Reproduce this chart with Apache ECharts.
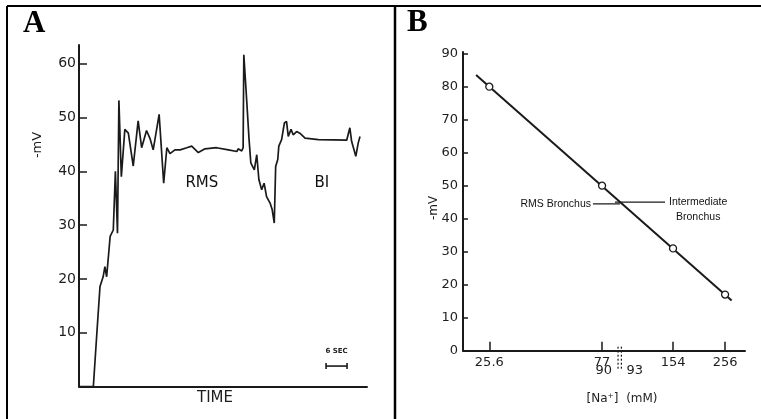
<!DOCTYPE html>
<html>
<head>
<meta charset="utf-8">
<script src="https://cdn.jsdelivr.net/npm/echarts@6/dist/echarts.min.js"></script>
<style>
    html, body { margin: 0; padding: 0; background: #fff; }
    #chart { width: 761px; height: 419px; }
</style>
</head>
<body>
<div id="chart"></div>
<script>
    // ---- panel A: potential trace, time in seconds (6 s scale bar) ----
    var traceSec = [0, 4.1, 5.1, 6.0, 6.9, 7.4, 7.9, 8.9, 9.8, 10.4, 11.0, 11.4, 12.1, 13.1, 14.1, 15.5, 16.9,
        17.9, 19.3, 20.3, 21.2, 22.9, 24.2, 25.1, 26.0, 27.4, 28.9, 30.8, 32.2, 34.1, 36.0, 39.3, 42.7,
        45.1, 45.5, 46.5, 46.9, 47.1, 47.9, 48.6, 49.1, 50.1, 50.8, 51.4, 52.2, 52.9, 53.6, 54.6, 55.2,
        55.8, 56.2, 56.8, 57.1, 57.9, 58.7, 59.3, 59.8, 60.6, 61.2, 62.2, 63.1, 64.6, 68.4, 76.5, 77.4,
        77.9, 79.1, 79.8, 80.3];
    var traceMv = [0, 0, 9.9, 18.6, 20.4, 22.3, 20.4, 27.9, 29.1, 40, 28.5, 53.2, 39, 47.8, 47.1, 41, 49.4,
        44.4, 47.6, 46.1, 44, 50.6, 37.8, 44.4, 43.3, 44, 44, 44.4, 44.7, 43.5, 44.2, 44.4, 44,
        43.7, 44.2, 43.8, 44.4, 61.7, 53.4, 45.9, 41.6, 40.3, 43.1, 38.5, 36.6, 37.8, 35.3, 34.1, 32.9,
        30.4, 40.9, 42.2, 44.7, 45.9, 49, 49.3, 46.5, 47.8, 46.8, 47.4, 47.1, 46.2, 45.9, 45.8, 48.1,
        45.6, 42.8, 45.3, 46.5];
    var mvTicksA = [10, 20, 30, 40, 50, 60];
    var notesA = ['RMS', 'BI'];
    var notesASec = [35.1, 69.4];
    var notesAMv = [37.9, 37.9];
    var scaleBarStart = 70.6;
    var scaleBarSec = 6;
    var scaleBarMv = 3.8;

    // ---- panel B: potential vs [Na+] (log scale) ----
    var naConc = [25.6, 77, 154, 256];
    var naMv = [80, 50, 31, 17];
    var fitConc = [22.5, 273];
    var fitMv = [83.5, 15.2];
    var concTicks = [25.6, 77, 154, 256];
    var concTickLabels = ['25.6', '77', '154', '256'];
    var markConc = [90, 93];
    var markLabels = ['90', '93'];
    var mvTicksB = [0, 10, 20, 30, 40, 50, 60, 70, 80, 90];
    var rmsConc = [70.5, 91.7];
    var rmsMv = [44.5, 44.5];
    var interConc = [87.3, 142.4];
    var interMv = [45, 45];

    var lg = function (v) { return Math.log10(v); };
    var ink = '#1a1a1a';
    var textInk = '#1e1e1e';
    var tickText = { fontFamily: 'DejaVu Sans', fontSize: 14, color: textInk };

    var chart = echarts.init(document.getElementById('chart'));

    chart.setOption({
        animation: false,
        backgroundColor: '#fff',
        grid: [
            { left: 79, top: 45, width: 288, height: 341.5, outerBoundsMode: 'none' },
            { left: 463, top: 52, width: 282, height: 298.7, outerBoundsMode: 'none' }
        ],
        xAxis: [{
            gridIndex: 0, type: 'value', min: 0, max: 82.3,
            axisLine: { lineStyle: { color: ink, width: 2 } },
            axisTick: { show: false }, axisLabel: { show: false }, splitLine: { show: false },
            name: 'TIME', nameLocation: 'middle', nameGap: 4,
            nameTextStyle: { fontFamily: 'DejaVu Sans', fontSize: 15, color: textInk, padding: [0, 16, 0, 0] }
        }, {
            gridIndex: 1, type: 'value', min: lg(19.8), max: lg(311),
            axisLine: { lineStyle: { color: ink, width: 2 } },
            axisTick: { inside: true, length: 9, customValues: concTicks.map(lg), lineStyle: { color: ink, width: 1.5 } },
            axisLabel: Object.assign({
                customValues: concTicks.map(lg), margin: 5,
                formatter: function (v) {
                    var i = concTicks.findIndex(function (c) { return Math.abs(lg(c) - v) < 1e-6; });
                    return i < 0 ? '' : concTickLabels[i];
                }
            }, tickText, { fontSize: 13 }),
            splitLine: { show: false },
            name: '[Na\u207A]  (mM)', nameLocation: 'middle', nameGap: 42,
            nameTextStyle: { fontFamily: 'DejaVu Sans', fontSize: 12, color: textInk, padding: [0, 0, 0, 36] }
        }],
        yAxis: [{
            gridIndex: 0, type: 'value', min: 0, max: 63.5,
            axisLine: { show: true, lineStyle: { color: ink, width: 2 } },
            axisTick: { show: true, inside: true, length: 8, customValues: mvTicksA, lineStyle: { color: ink, width: 1.5 } },
            axisLabel: Object.assign({ customValues: mvTicksA, margin: 3 }, tickText),
            splitLine: { show: false }
        }, {
            gridIndex: 1, type: 'value', min: 0, max: 90.5,
            axisLine: { show: true, lineStyle: { color: ink, width: 2 } },
            axisTick: { show: true, inside: true, length: 5, customValues: mvTicksB, lineStyle: { color: ink, width: 1.5 } },
            axisLabel: Object.assign({ customValues: mvTicksB, margin: 5 }, tickText, { fontSize: 13 }),
            splitLine: { show: false }
        }],
        series: [{
            name: 'trace', type: 'line', xAxisIndex: 0, yAxisIndex: 0,
            data: traceSec.map(function (t, i) { return [t, traceMv[i]]; }),
            symbol: 'none', lineStyle: { color: ink, width: 1.7 }, z: 5
        }, {
            name: 'notesA', type: 'scatter', xAxisIndex: 0, yAxisIndex: 0, symbolSize: 0,
            itemStyle: { opacity: 1 },
            data: notesA.map(function (n, i) { return { name: n, value: [notesASec[i], notesAMv[i]] }; }),
            label: { show: true, position: 'inside', formatter: '{b}', fontFamily: 'DejaVu Sans', fontSize: 15, color: '#111' }
        }, {
            name: 'scaleBar', type: 'custom', xAxisIndex: 0, yAxisIndex: 0,
            data: [[scaleBarStart, scaleBarMv]],
            renderItem: function (params, api) {
                var p0 = api.coord([api.value(0), api.value(1)]);
                var p1 = api.coord([api.value(0) + scaleBarSec, api.value(1)]);
                var st = { stroke: ink, lineWidth: 1.6 };
                return {
                    type: 'group', children: [
                        { type: 'line', shape: { x1: p0[0], y1: p0[1], x2: p1[0], y2: p1[1] }, style: st },
                        { type: 'line', shape: { x1: p0[0], y1: p0[1] - 3, x2: p0[0], y2: p0[1] + 3 }, style: st },
                        { type: 'line', shape: { x1: p1[0], y1: p1[1] - 3, x2: p1[0], y2: p1[1] + 3 }, style: st },
                        { type: 'text', x: (p0[0] + p1[0]) / 2, y: p0[1] - 15,
                          style: { text: scaleBarSec + ' SEC', align: 'center', verticalAlign: 'middle',
                                   font: 'bold 7px "DejaVu Sans"', fill: textInk } }
                    ]
                };
            }
        }, {
            name: 'fit', type: 'line', xAxisIndex: 1, yAxisIndex: 1,
            data: fitConc.map(function (c, i) { return [lg(c), fitMv[i]]; }),
            symbol: 'none', lineStyle: { color: ink, width: 2 }
        }, {
            name: 'measured', type: 'scatter', xAxisIndex: 1, yAxisIndex: 1,
            data: naConc.map(function (c, i) { return [lg(c), naMv[i]]; }),
            symbol: 'circle', symbolSize: 7,
            itemStyle: { color: '#ffffff', borderColor: '#1a1a1a', borderWidth: 1.3, opacity: 1 }, z: 4
        }, {
            name: 'rms', type: 'line', xAxisIndex: 1, yAxisIndex: 1,
            data: rmsConc.map(function (c, i) { return [lg(c), rmsMv[i]]; }),
            symbol: 'none', lineStyle: { color: ink, width: 1.3 }
        }, {
            name: 'intermediate', type: 'line', xAxisIndex: 1, yAxisIndex: 1,
            data: interConc.map(function (c, i) { return [lg(c), interMv[i]]; }),
            symbol: 'none', lineStyle: { color: ink, width: 1.3 }
        }, {
            name: 'notesB', type: 'scatter', xAxisIndex: 1, yAxisIndex: 1, symbolSize: 0,
            itemStyle: { opacity: 1 },
            data: [{
                value: [lg(rmsConc[0]), rmsMv[0]],
                label: { show: true, position: 'left', distance: 2, formatter: 'RMS Bronchus' }
            }, {
                value: [lg(interConc[1]), interMv[1]],
                label: { show: true, position: 'right', distance: 4, offset: [0, 7],
                         formatter: '{c|Intermediate}\n{c|Bronchus}',
                         rich: { c: { align: 'center', fontFamily: 'Liberation Sans', fontSize: 10.5, color: '#111', lineHeight: 15 } } }
            }],
            label: { fontFamily: 'Liberation Sans', fontSize: 10.5, color: '#111' }
        }, {
            name: 'marks', type: 'custom', xAxisIndex: 1, yAxisIndex: 1,
            data: markConc.map(function (c) { return [lg(c), 0]; }),
            renderItem: function (params, api) {
                var p = api.coord([api.value(0), 0]);
                var left = params.dataIndex === 0;
                return {
                    type: 'group', children: [
                        { type: 'line', shape: { x1: p[0], y1: p[1] - 4, x2: p[0], y2: p[1] + 20 },
                          style: { stroke: ink, lineWidth: 1.2, lineDash: [2, 2] } },
                        { type: 'text', x: left ? p[0] - 6 : p[0] + 5, y: p[1] + 20,
                          style: { text: markLabels[params.dataIndex], align: left ? 'right' : 'left',
                                   verticalAlign: 'middle', font: '13px "DejaVu Sans"', fill: textInk } }
                    ]
                };
            }
        }],
        graphic: [
            { type: 'line', shape: { x1: 7, y1: 6, x2: 761, y2: 6 }, style: { stroke: '#000', lineWidth: 2 } },
            { type: 'line', shape: { x1: 7, y1: 6, x2: 7, y2: 419 }, style: { stroke: '#000', lineWidth: 2 } },
            { type: 'line', shape: { x1: 395, y1: 6, x2: 395, y2: 419 }, style: { stroke: '#000', lineWidth: 2.5 } },
            { type: 'text', x: 23, y: 24, style: { text: 'A', font: 'bold 31px "Liberation Serif"', fill: '#000', verticalAlign: 'middle' } },
            { type: 'text', x: 407, y: 23, style: { text: 'B', font: 'bold 31px "Liberation Serif"', fill: '#000', verticalAlign: 'middle' } },
            { type: 'text', x: 38, y: 145, rotation: Math.PI / 2,
              style: { text: '-mV', font: '13px "DejaVu Sans"', fill: textInk, align: 'center', verticalAlign: 'middle' } },
            { type: 'text', x: 434, y: 208, rotation: Math.PI / 2,
              style: { text: '-mV', font: '12px "DejaVu Sans"', fill: textInk, align: 'center', verticalAlign: 'middle' } }
        ]
    });
</script>
</body>
</html>
